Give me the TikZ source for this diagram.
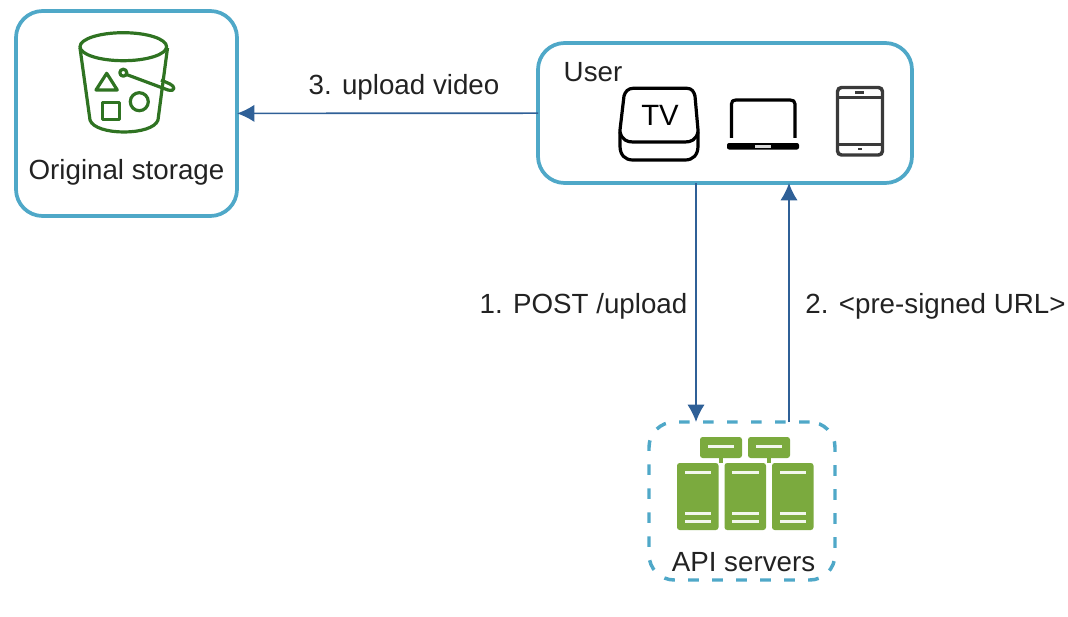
\documentclass[tikz,border=0pt]{standalone}
\usepackage{fontspec}
\setmainfont{Liberation Sans}
\usetikzlibrary{arrows.meta}
\definecolor{boxblue}{HTML}{4FA8C8}
\definecolor{flowblue}{HTML}{2F6097}
\definecolor{bucketgreen}{HTML}{2F7322}
\definecolor{servergreen}{HTML}{7BAA3E}
\definecolor{textgray}{HTML}{222222}
\definecolor{devicegray}{HTML}{3A3A3A}
\tikzset{
  panel/.style={draw=boxblue, line width=2.8pt, rounded corners=20pt, inner sep=0pt, outer sep=0pt},
  dashpanel/.style={draw=boxblue, line width=2.6pt, rounded corners=19pt, inner sep=0pt, outer sep=0pt, dash pattern=on 8pt off 10pt},
  flow/.style={draw=flowblue, line width=1.25pt, -{Latex[length=13pt,width=13pt]}},
  label/.style={font=\fontsize{20.8}{24}\selectfont, text=textgray, inner sep=0pt},
  bucketline/.style={draw=bucketgreen, line width=2.4pt, line join=round},
  deviceline/.style={draw=black, line width=2.4pt, line join=round},
}
\begin{document}
\begin{tikzpicture}[x=0.75pt,y=-0.75pt]
    \useasboundingbox (0,0) rectangle (1068,617);

    % boxes
    \node[panel, minimum width=165.75pt, minimum height=153.75pt] (storage) at (126.5,113.5) {};
    \node[panel, minimum width=280.5pt, minimum height=105pt] (user) at (725,113) {};
    \node[dashpanel, minimum width=139.5pt, minimum height=118.5pt] (api) at (742,501) {};

    % box labels
    \node[label] (storagetext) at (126.5,172.5) {Original storage};
    \node[label] (usertext) at (593,72) {User};
    \node[label] (apitext) at (743.5,562.5) {API servers};

    % bucket
    \draw[bucketline] (123.3,46.7) ellipse (43.3 and 14);
    \draw[bucketline] (80,48) -- (90,120) .. controls (95,136) and (153,136) .. (158,120) -- (167.5,48);
    \draw[bucketline] (106.7,73.3) -- (96,90) -- (117.3,90) -- cycle;
    \draw[bucketline] (102.3,102.7) rectangle (119.3,119.3);
    \draw[bucketline] (139.3,101.7) circle (9);
    \draw[bucketline] (123.3,72.7) circle (3.5);
    \draw[bucketline] (126.5,74.5) -- (168,90) .. controls (176,92) and (175,86) .. (170,84) -- (161,80);

    % tv
    \draw[deviceline] (633,88.3) -- (687,88.3) .. controls (692,88.3) and (694,92) .. (695,96)
        -- (698,130) -- (698,146) .. controls (698,155) and (693,160) .. (685,160)
        -- (633,160) .. controls (625,160) and (620,155) .. (620,146) -- (620,130)
        -- (624,96) .. controls (625,92) and (628,88.3) .. (633,88.3) -- cycle;
    \draw[deviceline] (620,132) .. controls (622,140) and (627,142) .. (633,142)
        -- (685,142) .. controls (691,142) and (696,140) .. (698,132);
    \node[font=\fontsize{22}{24}\selectfont, inner sep=0pt] (tvtext) at (660,115.5) {TV};

    % laptop
    \draw[deviceline] (731.5,138) -- (731.5,104) .. controls (731.5,101) and (733,100) .. (736,100)
        -- (790,100) .. controls (793,100) and (795,101) .. (795,104) -- (795,138);
    \fill[black, rounded corners=1.5pt] (727,143) rectangle (799,149.5);
    \fill[white!85!black] (755,144.5) rectangle (771,147.5);

    % tablet
    \draw[devicegray, line width=2.6pt, rounded corners=3pt] (837.5,87.5) rectangle (882.5,155);
    \draw[devicegray, line width=1.7pt] (838,97.5) -- (882,97.5);
    \draw[devicegray, line width=1.7pt] (838,144.5) -- (882,144.5);
    \draw[devicegray, line width=1.7pt] (855,92.5) -- (864,92.5);
    \draw[devicegray, line width=1.7pt] (858,148.8) -- (862,148.8);

    % servers
    \foreach \xs in {700,748} {
        \fill[servergreen, rounded corners=2pt] (\xs,437) rectangle (\xs+42,458);
        \fill[white!90!servergreen] (\xs+8,445) rectangle (\xs+34,448);
        \fill[servergreen] (\xs+19,458) rectangle (\xs+23,463);
    }
    \foreach \xs in {677,724.5,772} {
        \fill[servergreen, rounded corners=2pt] (\xs,463) rectangle (\xs+41.5,530);
        \fill[white!90!servergreen] (\xs+7.5,470.5) rectangle (\xs+34,473.5);
        \fill[white!90!servergreen] (\xs+7.5,511.5) rectangle (\xs+34,514.5);
        \fill[white!90!servergreen] (\xs+7.5,520) rectangle (\xs+34,523);
    }

    % arrows
    \coordinate (postx) at (696,0);
    \coordinate (urlx) at (789,0);
    \draw[flow] (user) -- (storage);
    \draw[flow] (postx |- user.south) -- (postx |- api.north);
    \draw[flow] (urlx |- api.north) -- (urlx |- user.south);

    % arrow labels
    \node[label] (uploadtext) at (404,87) {3. upload video};
    \node[label] (posttext) at (583.5,306.5) {1. POST /upload};
    \node[label] (urltext) at (935.5,306.5) {2. <pre-signed URL>};
\end{tikzpicture}
\end{document}
